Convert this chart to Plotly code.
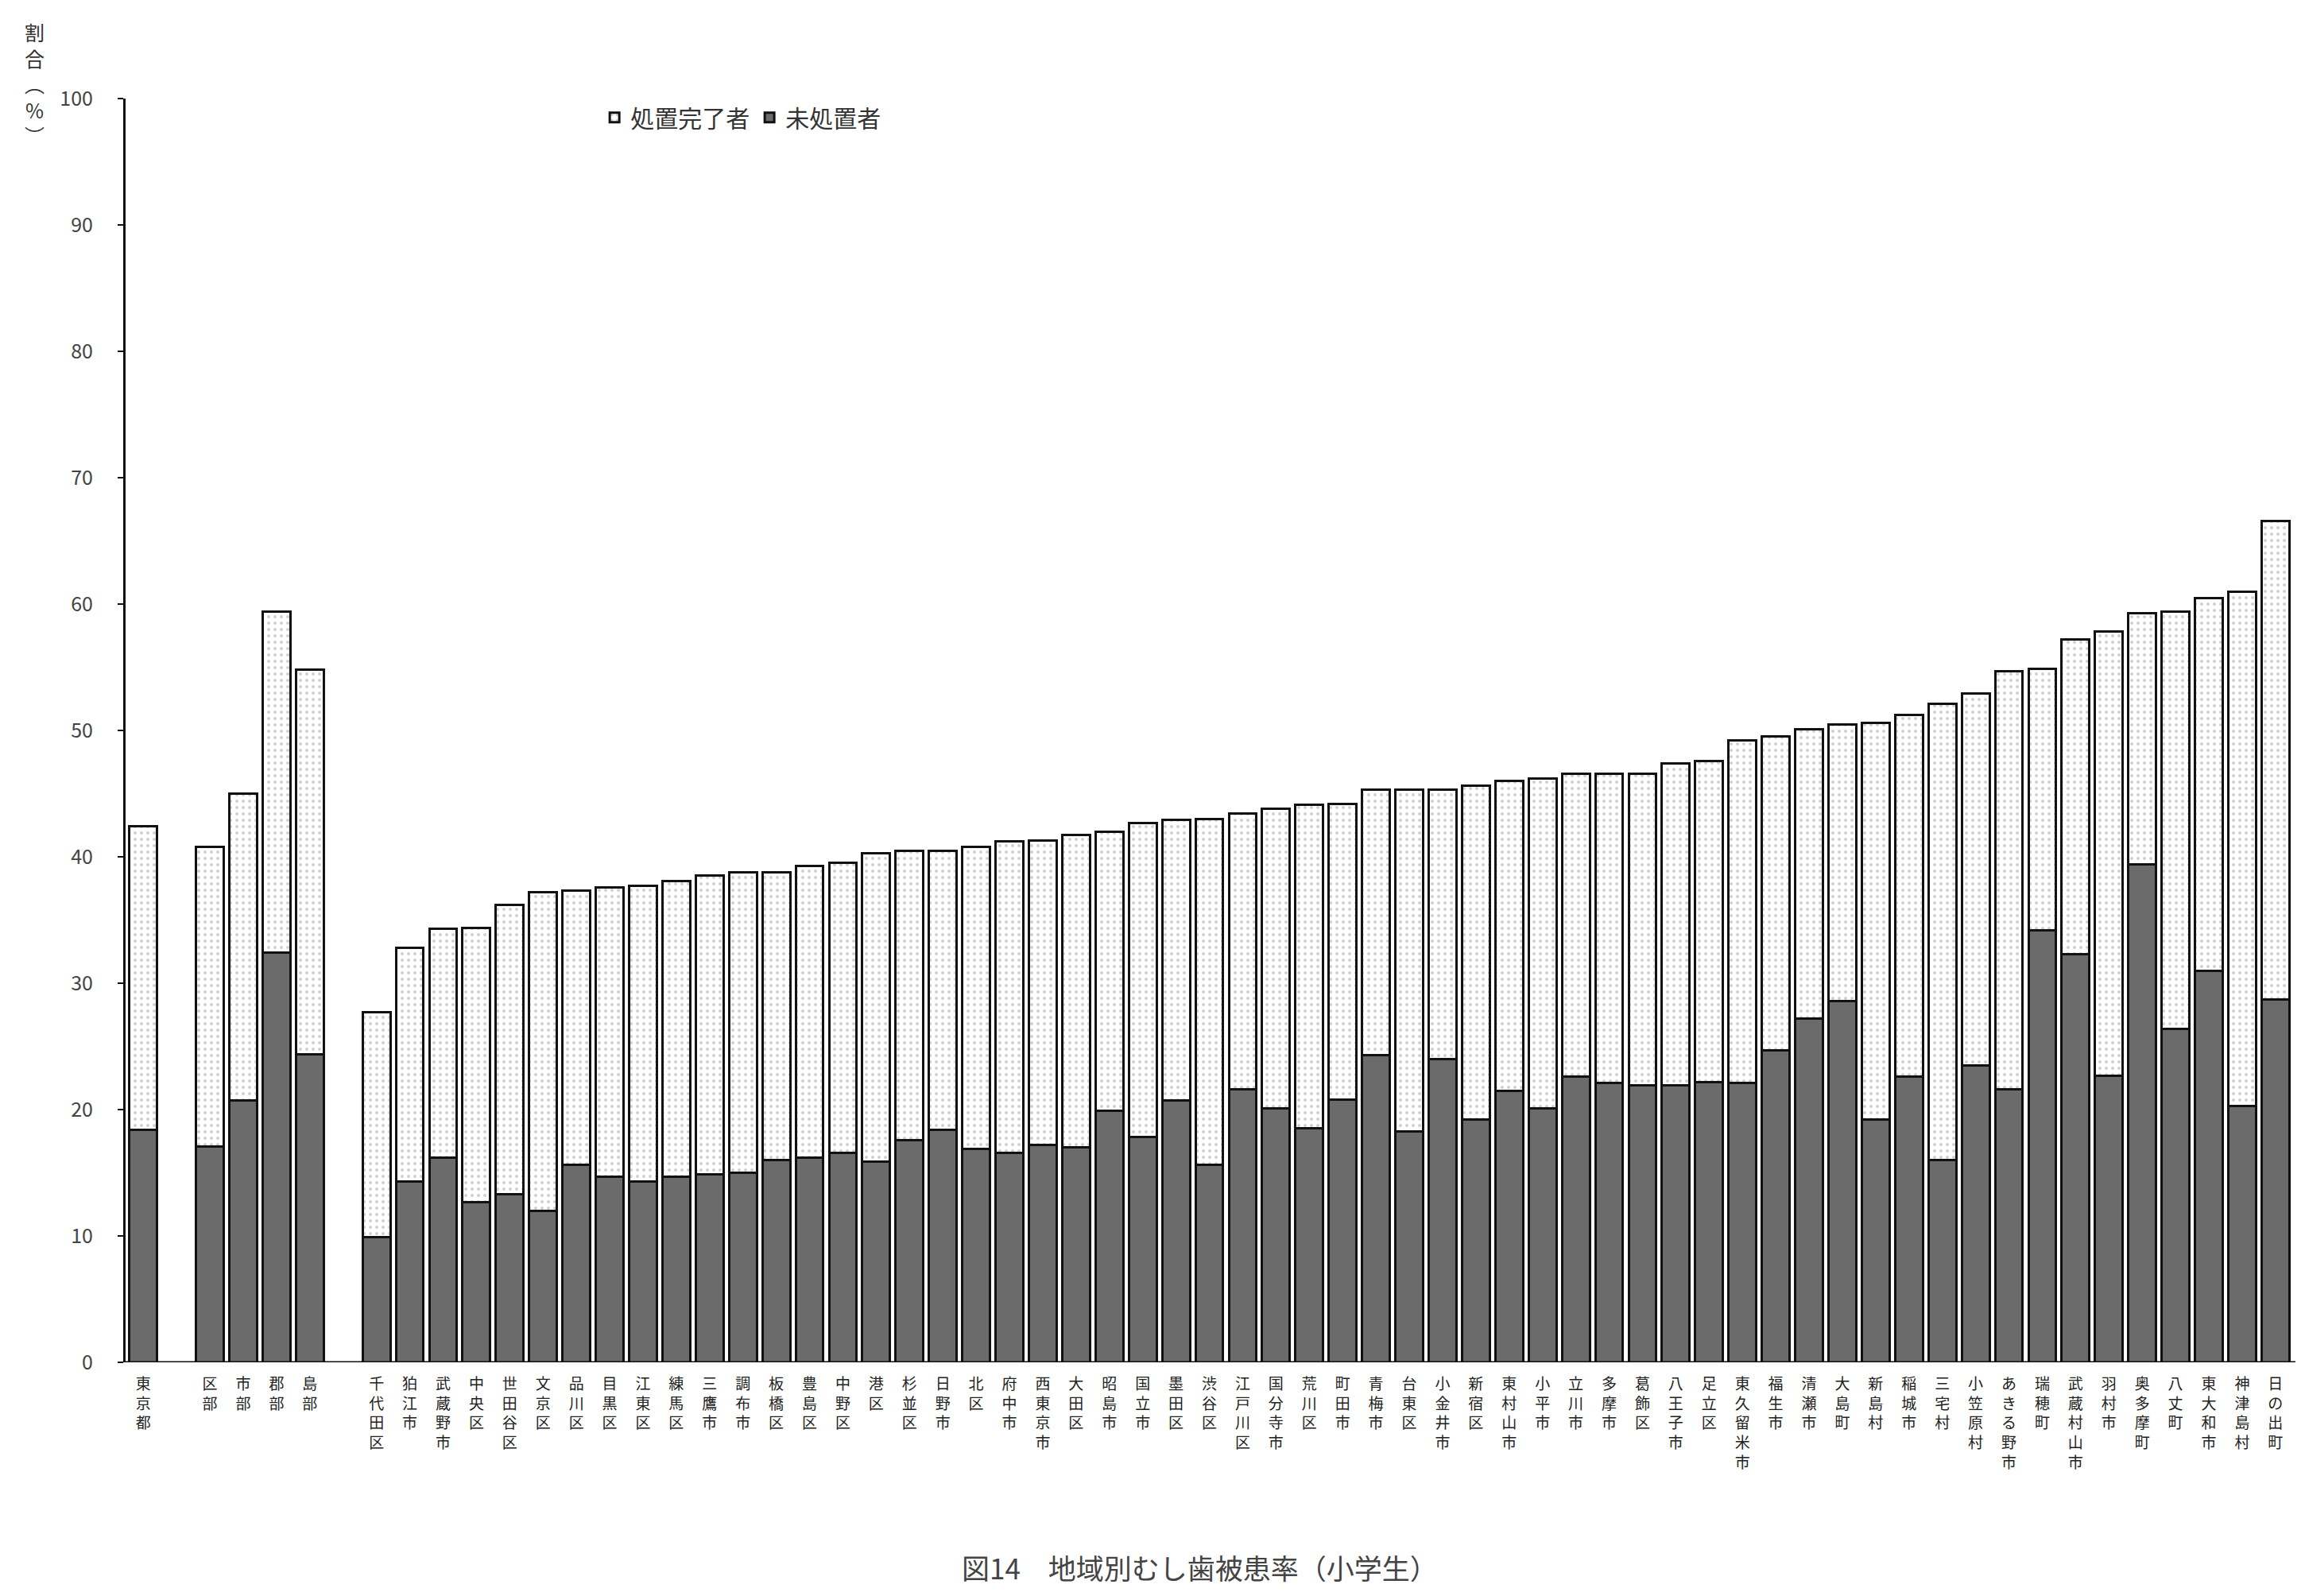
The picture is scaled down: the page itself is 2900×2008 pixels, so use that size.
import plotly.graph_objects as go

# ---- data ----
group_all = ["東京都"]
group_area = ["区部", "市部", "郡部", "島部"]
group_muni = ["千代田区", "狛江市", "武蔵野市", "中央区", "世田谷区", "文京区", "品川区", "目黒区",
              "江東区", "練馬区", "三鷹市", "調布市", "板橋区", "豊島区", "中野区", "港区",
              "杉並区", "日野市", "北区", "府中市", "西東京市", "大田区", "昭島市", "国立市",
              "墨田区", "渋谷区", "江戸川区", "国分寺市", "荒川区", "町田市", "青梅市", "台東区",
              "小金井市", "新宿区", "東村山市", "小平市", "立川市", "多摩市", "葛飾区", "八王子市",
              "足立区", "東久留米市", "福生市", "清瀬市", "大島町", "新島村", "稲城市", "三宅村",
              "小笠原村", "あきる野市", "瑞穂町", "武蔵村山市", "羽村市", "奥多摩町", "八丈町",
              "東大和市", "神津島村", "日の出町"]

# 未処置者 (untreated), %
untreated_all = [18.4]
untreated_area = [17.1, 20.7, 32.4, 24.4]
untreated_muni = [9.9, 14.3, 16.2, 12.7, 13.3, 12.0, 15.6, 14.7,
                  14.3, 14.7, 14.9, 15.0, 16.0, 16.2, 16.6, 15.9,
                  17.6, 18.4, 16.9, 16.6, 17.2, 17.0, 19.9, 17.8,
                  20.7, 15.6, 21.6, 20.1, 18.5, 20.8, 24.3, 18.3,
                  24.0, 19.2, 21.5, 20.1, 22.6, 22.1, 21.9, 21.9,
                  22.2, 22.1, 24.7, 27.2, 28.6, 19.2, 22.6, 16.0,
                  23.5, 21.6, 34.2, 32.3, 22.7, 39.4, 26.4,
                  31.0, 20.3, 28.7]

# 処置完了者 (treated), %
treated_all = [24.0]
treated_area = [23.7, 24.3, 27.0, 30.4]
treated_muni = [17.8, 18.5, 18.1, 21.7, 22.9, 25.2, 21.7, 22.9,
                23.4, 23.4, 23.6, 23.8, 22.8, 23.1, 22.9, 24.4,
                22.9, 22.1, 23.9, 24.6, 24.1, 24.7, 22.1, 24.9,
                22.2, 27.4, 21.8, 23.7, 25.6, 23.4, 21.0, 27.0,
                21.3, 26.4, 24.5, 26.1, 24.0, 24.5, 24.7, 25.5,
                25.4, 27.1, 24.8, 22.9, 21.9, 31.4, 28.6, 36.1,
                29.4, 33.1, 20.7, 24.9, 35.1, 19.9, 33.0,
                29.5, 40.7, 37.9]

y_ticks = [0, 10, 20, 30, 40, 50, 60, 70, 80, 90, 100]
title_text = "図14　地域別むし歯被患率（小学生）"
y_title = "割<br>合<br>︵<br>%<br>︶"
legend_treated = "処置完了者"
legend_untreated = "未処置者"

# ---- build positions: groups separated by one empty slot ----
groups = [(group_all, untreated_all, treated_all),
          (group_area, untreated_area, treated_area),
          (group_muni, untreated_muni, treated_muni)]
xs, names, unt, trt = [], [], [], []
pos = 0
for gi, (nm, u, t) in enumerate(groups):
    if gi > 0:
        pos += 1
    for n, a, b in zip(nm, u, t):
        xs.append(pos)
        names.append(n)
        unt.append(a)
        trt.append(b)
        pos += 1

ticktext = ["<br>".join(list(n)) for n in names]

FONT = "Noto Sans CJK JP"

fig = go.Figure()
fig.add_trace(go.Bar(
    x=xs, y=unt, name=legend_untreated,
    marker=dict(color="#6b6b6b", line=dict(color="#111111", width=3)),
    legendrank=2,
))
fig.add_trace(go.Bar(
    x=xs, y=trt, name=legend_treated,
    marker=dict(color="white", line=dict(color="#111111", width=3),
                pattern=dict(shape=".", fgcolor="#a0a0a0", bgcolor="white",
                             size=8, solidity=0.2)),
    legendrank=1,
))

fig.update_layout(
    width=2900, height=2008,
    barmode="stack", bargap=0.17,
    plot_bgcolor="white", paper_bgcolor="white",
    margin=dict(l=150, r=20, t=116, b=302),
    font=dict(family=FONT, color="#333333", size=20),
    showlegend=True,
    legend=dict(orientation="h", x=0.218, y=0.985, xanchor="left", yanchor="middle",
                font=dict(size=30, color="#333333"), bgcolor="rgba(0,0,0,0)",
                itemwidth=30, traceorder="normal"),
    xaxis=dict(
        range=[-0.53, 64.6], tickmode="array", tickvals=xs, ticktext=ticktext,
        showgrid=False, zeroline=False, showline=False, ticks="",
        tickfont=dict(size=19, color="#222222", family=FONT),
        tickangle=0, ticklabelstandoff=14, automargin=False,
    ),
    yaxis=dict(
        range=[0, 100], tickmode="array", tickvals=y_ticks,
        showgrid=False, zeroline=False, showline=True, linecolor="#111111", linewidth=3,
        ticks="outside", ticklen=7, tickwidth=2, tickcolor="#111111",
        tickfont=dict(size=25, color="#444444", family=FONT),
        ticklabelstandoff=26, automargin=False,
    ),
)

# baseline
fig.add_shape(type="line", xref="paper", yref="y", x0=0, x1=1, y0=0, y1=0,
              line=dict(color="#111111", width=3))

fig.add_annotation(text=y_title, xref="paper", yref="paper", x=-0.042, y=1.012,
                   showarrow=False, font=dict(size=25, color="#333333", family=FONT),
                   xanchor="center", yanchor="middle")
fig.add_annotation(text=title_text, xref="paper", yref="paper", x=0.495, y=-0.162,
                   showarrow=False, font=dict(size=35, color="#444444", family=FONT),
                   xanchor="center", yanchor="middle")

fig.write_html("out.html")
